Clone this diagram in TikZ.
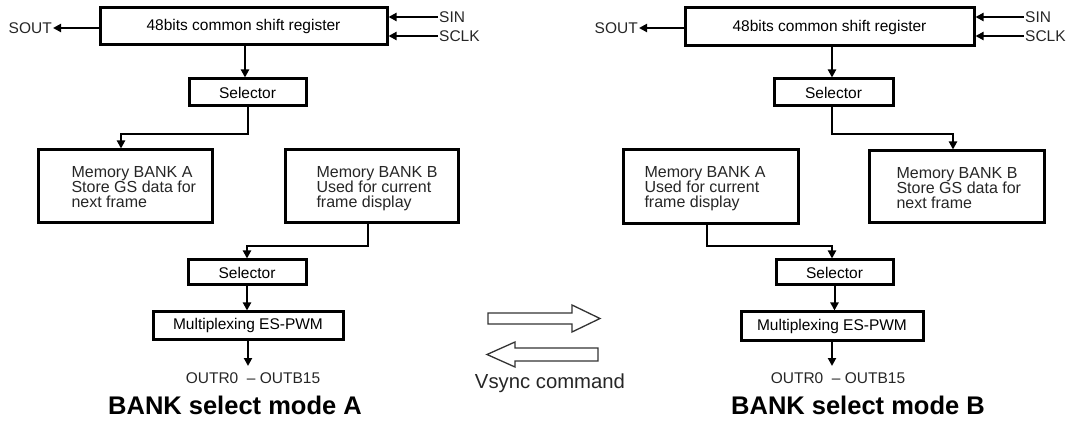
\documentclass[tikz,border=0pt]{standalone}
\usepackage{fontspec}
\setmainfont{Liberation Sans}
\usetikzlibrary{arrows.meta,calc}
\tikzset{
  blk/.style={draw=black, line width=3pt, inner sep=0pt, font=\fontsize{15.5}{15.5}\selectfont},
  arr/.style={line width=2pt, -{Triangle[length=8pt,width=8pt]}},
  lbl/.style={inner sep=1pt, font=\fontsize{15.5}{15.5}\selectfont, text=black!85},
  memtxt/.style={align=left, font=\fontsize{16}{15}\selectfont, text=black!85},
  title/.style={font=\fontsize{25.5}{25.5}\selectfont\bfseries},
  bigarr/.style={draw=black!80, line width=1.3pt, fill=white, line join=miter}
}
\begin{document}
\begin{tikzpicture}[x=1pt,y=-1pt]
\useasboundingbox (0,0) rectangle (1069,422);

% ---------------- Left: mode A ----------------
\node[blk, minimum width=287pt, minimum height=37pt] (regA) at (243.5,26.5) {48bits common shift register};
\node[blk, minimum width=117pt, minimum height=27pt] (selA1) at (247.5,92.5) {Selector};
\node[blk, minimum width=174pt, minimum height=73pt] (bankAA) at (125,186.5) {};
\node[blk, minimum width=173pt, minimum height=73pt] (bankAB) at (371.5,186.5) {};
\node[memtxt, anchor=north west] (tAA) at (68,163) {Memory BANK A\\Store GS data for\\next frame};
\node[memtxt, anchor=north west] (tAB) at (313,163) {Memory BANK B\\Used for current\\frame display};
\node[blk, minimum width=118pt, minimum height=25pt] (selA2) at (247,272.5) {Selector};
\node[blk, minimum width=190pt, minimum height=27pt] (muxA) at (248,325.5) {Multiplexing ES-PWM};
\node[lbl] (outA) at (253,378) {OUTR0 \ – OUTB15};
\node[title] (titA) at (235,405) {BANK select mode A};
\node[lbl, anchor=east] (soutA) at (53,28) {SOUT};
\node[lbl, anchor=west] (sinA) at (438,17) {SIN};
\node[lbl, anchor=west] (sclkA) at (438,36) {SCLK};

\draw[arr] (regA.west |- soutA.east) -- (soutA.east);
\draw[arr] (sinA.west) -- (regA.east |- sinA.west);
\draw[arr] (sclkA.west) -- (regA.east |- sclkA.west);
\draw[arr] (245,0 |- regA.south) -- (245,0 |- selA1.north);
\draw[arr] (selA1.south) -- (selA1.south |- 0,134) -| (121,0 |- bankAA.north);
\draw[arr] (368,0 |- bankAB.south) -- (368,246) -| (selA2.north);
\draw[arr] (selA2.south) -- (selA2.south |- muxA.north);
\draw[arr] (muxA.south) -- (muxA.south |- 0,366);

% ---------------- Middle: Vsync ----------------
\draw[bigarr] (488,313) -- (572,313) -- (572,305) -- (600,318.5) -- (572,332) -- (572,324) -- (488,324) -- cycle;
\draw[bigarr] (598,348) -- (515,348) -- (515,342) -- (487,354.5) -- (515,367) -- (515,361) -- (598,361) -- cycle;
\node[lbl, font=\fontsize{20.3}{20.3}\selectfont] (vsync) at (550,383) {Vsync command};

% ---------------- Right: mode B ----------------
\node[blk, minimum width=289pt, minimum height=38pt] (regB) at (829.5,27) {48bits common shift register};
\node[blk, minimum width=119pt, minimum height=27pt] (selB1) at (833.5,92.5) {Selector};
\node[blk, minimum width=175pt, minimum height=74pt] (bankBA) at (710.5,187) {};
\node[blk, minimum width=175pt, minimum height=72pt] (bankBB) at (956.5,187) {};
\node[memtxt, anchor=north west] (tBA) at (641,163) {Memory BANK A\\Used for current\\frame display};
\node[memtxt, anchor=north west] (tBB) at (893,164) {Memory BANK B\\Store GS data for\\next frame};
\node[blk, minimum width=117pt, minimum height=25pt] (selB2) at (834.5,272.5) {Selector};
\node[blk, minimum width=182pt, minimum height=28pt] (muxB) at (832,326) {Multiplexing ES-PWM};
\node[lbl] (outB) at (838,378) {OUTR0 \ – OUTB15};
\node[title] (titB) at (858,405) {BANK select mode B};
\node[lbl, anchor=east] (soutB) at (639,28) {SOUT};
\node[lbl, anchor=west] (sinB) at (1024,17) {SIN};
\node[lbl, anchor=west] (sclkB) at (1024,36) {SCLK};

\draw[arr] (regB.west |- soutB.east) -- (soutB.east);
\draw[arr] (sinB.west) -- (regB.east |- sinB.west);
\draw[arr] (sclkB.west) -- (regB.east |- sclkB.west);
\draw[arr] (832,0 |- regB.south) -- (832,0 |- selB1.north);
\draw[arr] (832,0 |- selB1.south) -- (832,134) -| (953,0 |- bankBB.north);
\draw[arr] (707,0 |- bankBA.south) -- (707,246) -| (832,0 |- selB2.north);
\draw[arr] (selB2.south) -- (selB2.south |- muxB.north);
\draw[arr] (muxB.south) -- (muxB.south |- 0,366);
\end{tikzpicture}
\end{document}
